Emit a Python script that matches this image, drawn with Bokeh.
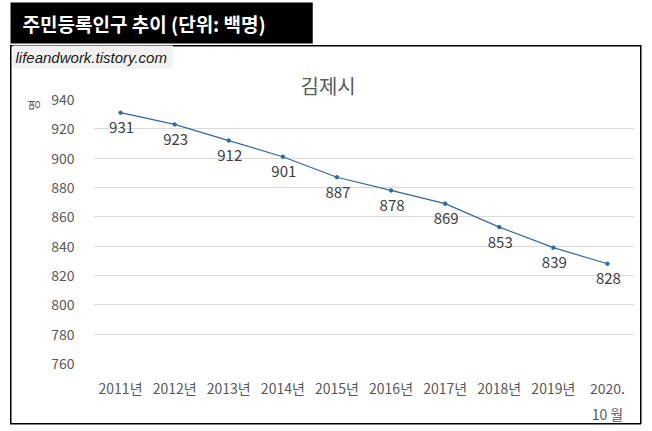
from bokeh.plotting import figure
from bokeh.models import FactorRange, Range1d, FixedTicker, ColumnDataSource, Title
from bokeh.core.properties import value
from bokeh.embed import file_html
from bokeh.resources import INLINE

# ---- data ----
years = ["2011년", "2012년", "2013년", "2014년", "2015년", "2016년",
         "2017년", "2018년", "2019년", "2020.\n10 월"]
population = [931, 923, 912, 901, 887, 878, 869, 853, 839, 828]
y_ticks = [760, 780, 800, 820, 840, 860, 880, 900, 920, 940]
header_text = "주민등록인구 추이 (단위: 백명)"
chart_title = "김제시"
watermark = "lifeandwork.tistory.com"
unit_label = "명"

KR = "Noto Sans CJK KR"
LINE = "#2f6aa3"

# outer chart border (drawn as CSS background behind the transparent canvas)
border_css = ", ".join([
    "linear-gradient(#000,#000) 10px 45px / 631px 1.5px no-repeat",
    "linear-gradient(#000,#000) 10px 422.5px / 631px 1.5px no-repeat",
    "linear-gradient(#000,#000) 9.5px 45px / 1.5px 379px no-repeat",
    "linear-gradient(#000,#000) 640px 45px / 1.5px 379px no-repeat",
    "#ffffff",
])

W, H = 652, 431
p = figure(width=W, height=H, x_range=FactorRange(*years, range_padding=0),
           y_range=Range1d(760, 940), output_backend="svg", toolbar_location=None,
           title=None, min_border_left=93, min_border_right=W - 634,
           min_border_top=96, min_border_bottom=H - 363,
           styles={"background": border_css})
p.outline_line_color = None
p.background_fill_color = None
p.border_fill_color = None
p.xgrid.grid_line_color = None
p.ygrid.grid_line_color = "#d9d9d9"
p.ygrid.grid_line_width = 1

p.yaxis.ticker = FixedTicker(ticks=y_ticks)
p.yaxis.axis_line_color = None
p.yaxis.major_tick_line_color = None
p.yaxis.minor_tick_line_color = None
p.yaxis.major_label_standoff = 13
p.yaxis.major_label_text_font = KR
p.yaxis.major_label_text_font_size = "14px"
p.yaxis.major_label_text_color = "#595959"

p.xaxis.axis_line_color = None
p.xaxis.major_tick_line_color = None
p.xaxis.minor_tick_line_color = None
p.xaxis.major_label_standoff = 8
p.xaxis.major_label_text_font = KR
p.xaxis.major_label_text_font_size = "14px"
p.xaxis.major_label_text_color = "#595959"
p.xaxis.major_label_text_line_height = 1.3

src = ColumnDataSource(dict(x=years, y=population, t=[str(v) for v in population]))
p.line("x", "y", source=src, line_color=LINE, line_width=1.2)
p.scatter("x", "y", source=src, size=3.5, color=LINE)
p.text("x", "y", text="t", source=src, text_align="center", text_baseline="middle",
       y_offset=15, x_offset=1, text_font=value(KR), text_font_size="15px",
       text_color="#404040")

# titles stacked above the plot area (first added = nearest the plot)
p.add_layout(Title(text=chart_title, align="left", offset=207, standoff=0,
                   text_font=KR, text_font_size="20px", text_font_style="normal",
                   text_color="#595959"), "above")
p.add_layout(Title(text=watermark, align="left", offset=-81, standoff=0,
                   text_font="Liberation Sans", text_font_size="15px",
                   text_font_style="italic", text_color="#1a1a1a",
                   background_fill_color="#f2f2f2", padding=(3, 6, 3, 3)), "above")
p.add_layout(Title(text=header_text, align="left", offset=-83, standoff=0,
                   text_font=KR, text_font_size="19px", text_font_style="bold",
                   text_color="white", background_fill_color="black",
                   padding=(12, 47, 7, 7)), "above")
# unit label on the left, at the top end
p.add_layout(Title(text=unit_label, align="right", offset=0, standoff=14,
                   text_font=KR, text_font_size="12px", text_font_style="normal",
                   text_color="#595959"), "left")

open("out.html", "w").write(file_html(p, INLINE))
